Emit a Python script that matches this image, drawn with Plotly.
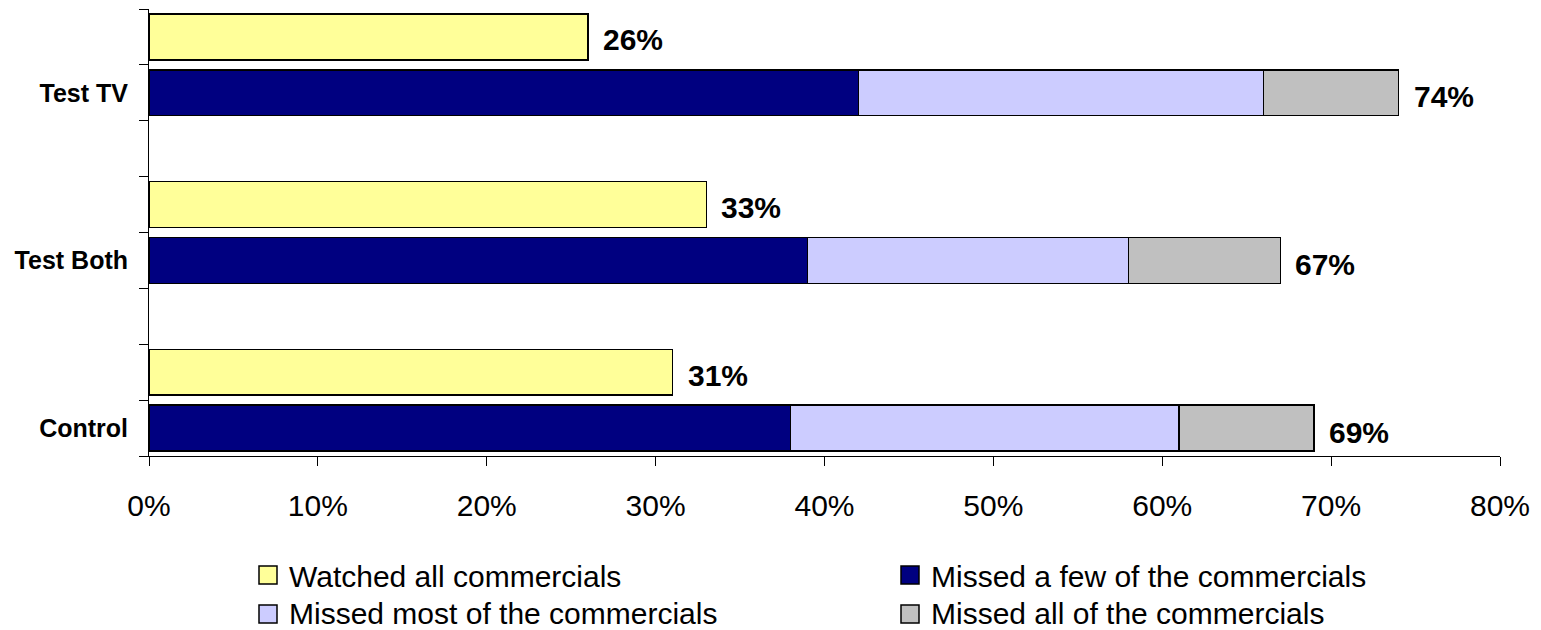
import plotly.graph_objects as go

# ---- data ----
groups = ["Control", "Test Both", "Test TV"]
watched_all = [31, 33, 26]
missed_few = [38, 39, 42]
missed_most = [23, 19, 24]
missed_all = [8, 9, 8]

series_names = ["Watched all commercials", "Missed a few of the commercials",
                "Missed most of the commercials", "Missed all of the commercials"]
colors = ["#FFFF99", "#000080", "#CCCCFF", "#C0C0C0"]
x_ticks = [0, 10, 20, 30, 40, 50, 60, 70, 80]

FONT = "Liberation Sans, Arial, sans-serif"
W, H = 1541, 630
ML, MR, MT, MB = 149, 41, 9, 174

# slot positions: each group gets 3 slots (missed bar, watched bar, gap)
missed_pos = [3 * i for i in range(len(groups))]
watched_pos = [3 * i + 1 for i in range(len(groups))]

fig = go.Figure()
line = dict(color="black", width=1.5)
bw = 0.82
fig.add_trace(go.Bar(y=watched_pos, x=watched_all, orientation="h", name=series_names[0],
                     marker=dict(color=colors[0], line=line), width=bw, showlegend=False))
for name, vals, col in zip(series_names[1:], [missed_few, missed_most, missed_all], colors[1:]):
    fig.add_trace(go.Bar(y=missed_pos, x=vals, orientation="h", name=name,
                         marker=dict(color=col, line=line), width=bw, showlegend=False))

annos = []
for i in range(len(groups)):
    annos.append(dict(x=watched_all[i], y=watched_pos[i], text=f"<b>{watched_all[i]}%</b>",
                      showarrow=False, xanchor="left", xshift=13, yshift=-3,
                      font=dict(family=FONT, size=30, color="black")))
    tot = missed_few[i] + missed_most[i] + missed_all[i]
    annos.append(dict(x=tot, y=missed_pos[i], text=f"<b>{tot}%</b>",
                      showarrow=False, xanchor="left", xshift=13, yshift=-4,
                      font=dict(family=FONT, size=30, color="black")))

# manual legend (2 x 2)
plot_w = W - ML - MR
plot_h = H - MT - MB
def px2paper_x(px):
    return (px - ML) / plot_w
def px2paper_y(py):
    return (H - MB - py) / plot_h

shapes = []
leg_cols = [259, 901]
leg_rows = [575, 614]
text_rows = [576, 613]
sw = 18
for k, (name, col) in enumerate(zip(series_names, colors)):
    r, c = divmod(k, 2)
    x0 = leg_cols[c]
    yc = leg_rows[r]
    shapes.append(dict(type="rect", xref="paper", yref="paper",
                       x0=px2paper_x(x0), x1=px2paper_x(x0 + sw),
                       y0=px2paper_y(yc + sw / 2), y1=px2paper_y(yc - sw / 2),
                       fillcolor=col, line=dict(color="black", width=1.5)))
    annos.append(dict(xref="paper", yref="paper", x=px2paper_x(x0 + 29), y=px2paper_y(text_rows[r]),
                      text=name, showarrow=False, xanchor="left", yanchor="middle",
                      borderpad=0,
                      font=dict(family=FONT, size=30, color="black")))

fig.update_layout(
    width=W, height=H,
    margin=dict(l=ML, r=MR, t=MT, b=MB),
    plot_bgcolor="white", paper_bgcolor="white",
    barmode="stack", showlegend=False,
    annotations=annos, shapes=shapes,
    xaxis=dict(range=[0, 80], tickvals=x_ticks, ticktext=[f"{v}%" for v in x_ticks],
               ticks="outside", ticklen=9, tickcolor="black", tickwidth=1, automargin=False,
               showline=True, linecolor="black", linewidth=1, showgrid=False, zeroline=False,
               tickfont=dict(family=FONT, size=30, color="black"), ticklabelstandoff=14),
    yaxis=dict(range=[-0.5, 7.5], tickvals=missed_pos, ticktext=[f"<b>{g}</b>" for g in groups],
               ticks="", showline=True, linecolor="black", linewidth=1, showgrid=False,
               zeroline=False, tickfont=dict(family=FONT, size=25, color="black"),
               ticklabelstandoff=15, automargin=False,
               minor=dict(tick0=-0.5, dtick=1, ticks="outside", ticklen=9,
                          tickcolor="black", tickwidth=1, showgrid=False)),
)

fig.write_html("out.html")
